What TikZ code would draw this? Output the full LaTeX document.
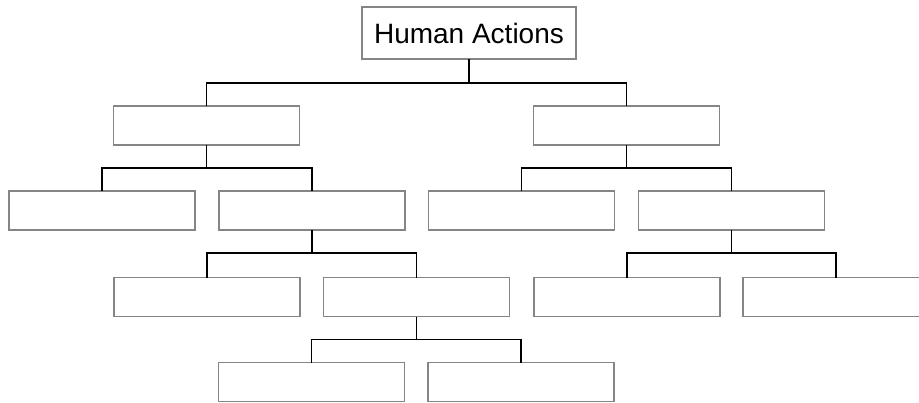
\documentclass[tikz,border=0pt]{standalone}
\usepackage{fontspec}
\setmainfont{Liberation Sans}
\begin{document}
\begin{tikzpicture}[x=1pt,y=-1pt,
  box/.style={draw=black!48, line width=1.8pt, fill=white, minimum width=186pt, minimum height=39pt, inner sep=0pt, outer sep=0pt},
  link/.style={draw=black, line width=1.5pt}]
\useasboundingbox (0,0) rectangle (919,402);
\clip (0,0) rectangle (919,402);
% root
\node[box, minimum width=214pt, minimum height=52pt, font=\fontsize{28}{32}\selectfont] (root) at (469,33) {Human Actions};
% level 1
\node[box] (a) at (206.5,125.5) {};
\node[box] (b) at (626.5,125.5) {};
% level 2
\node[box] (a1) at (102,210.5) {};
\node[box] (a2) at (312,210.5) {};
\node[box] (b1) at (521.5,210.5) {};
\node[box] (b2) at (731.5,210.5) {};
% level 3
\node[box] (a21) at (207,297) {};
\node[box] (a22) at (416.5,297) {};
\node[box] (b21) at (627,297) {};
\node[box] (b22) at (836,297) {};
% level 4
\node[box] (a221) at (311.5,382) {};
\node[box] (a222) at (521,382) {};
% connectors
\draw[link] (root.south) -- ++(0,24) -| (a.north);
\draw[link] (root.south) -- ++(0,24) -| (b.north);
\draw[link] (a.south) -- ++(0,23) -| (a1.north);
\draw[link] (a.south) -- ++(0,23) -| (a2.north);
\draw[link] (b.south) -- ++(0,23) -| (b1.north);
\draw[link] (b.south) -- ++(0,23) -| (b2.north);
\draw[link] (a2.south) -- ++(0,23) -| (a21.north);
\draw[link] (a2.south) -- ++(0,23) -| (a22.north);
\draw[link] (b2.south) -- ++(0,23) -| (b21.north);
\draw[link] (b2.south) -- ++(0,23) -| (b22.north);
\draw[link] (a22.south) -- ++(0,23) -| (a221.north);
\draw[link] (a22.south) -- ++(0,23) -| (a222.north);
\end{tikzpicture}
\end{document}
